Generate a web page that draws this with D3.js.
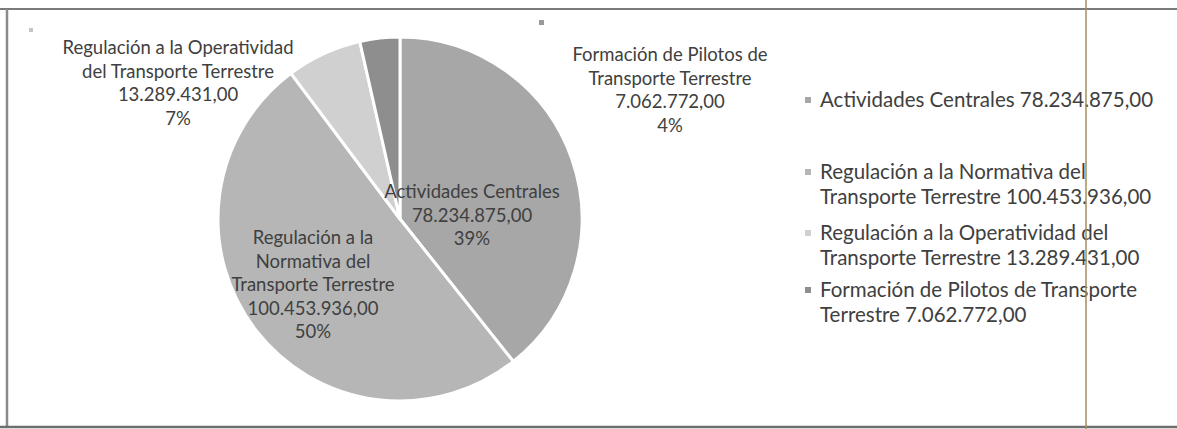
<!DOCTYPE html>
<html>
<head>
<meta charset="utf-8">
<script src="https://cdnjs.cloudflare.com/ajax/libs/d3/7.8.5/d3.min.js"></script>
<style>
	body { margin: 0; background: #fff; }
	svg text { font-family: Lato, "Open Sans", sans-serif; fill: #404040; }
</style>
</head>
<body>
<div id="chart"></div>
<script>
// presupuesto por actividad (pie)

var width = 1177,
	height = 429;

var categories = [
	"Actividades Centrales",
	"Regulación a la Normativa del Transporte Terrestre",
	"Regulación a la Operatividad del Transporte Terrestre",
	"Formación de Pilotos de Transporte Terrestre"
];
var amounts = [78234875.00, 100453936.00, 13289431.00, 7062772.00];
var amount_labels = ["78.234.875,00", "100.453.936,00", "13.289.431,00", "7.062.772,00"];
var percent_labels = ["39%", "50%", "7%", "4%"];

// how each label is broken in lines, on the pie and in the legend
var pie_label_lines = [
	["Actividades Centrales"],
	["Regulación a la", "Normativa del", "Transporte Terrestre"],
	["Regulación a la Operatividad", "del Transporte Terrestre"],
	["Formación de Pilotos de", "Transporte Terrestre"]
];
var legend_lines = [
	["Actividades Centrales 78.234.875,00"],
	["Regulación a la Normativa del", "Transporte Terrestre 100.453.936,00"],
	["Regulación a la Operatividad del", "Transporte Terrestre 13.289.431,00"],
	["Formación de Pilotos de Transporte", "Terrestre 7.062.772,00"]
];

var colors = ["#a7a7a7", "#b6b6b6", "#d0d0d0", "#8e8e8e"];

// layout
var cx = 400, cy = 219, radius = 182;
// label block centres (x, y of first line), placed like the original best-fit
var label_pos = [[472, 192], [313, 238], [178, 48], [670, 55]];
var line_h = 23.5;
var legend_x = 805, legend_y = [100, 172, 233, 290], legend_line_h = 25;

var svg = d3.select("#chart")
	.append("svg")
	.attr("width", width)
	.attr("height", height);

// frame of the scanned chart
svg.append("line")
	.attr("x1", 0).attr("x2", width)
	.attr("y1", 9).attr("y2", 9)
	.attr("stroke", "#7a7a7a").attr("stroke-width", 2);
svg.append("line")
	.attr("x1", 7).attr("x2", 7)
	.attr("y1", 9).attr("y2", 427)
	.attr("stroke", "#8a8a8a").attr("stroke-width", 2.5);
svg.append("line")
	.attr("x1", 0).attr("x2", width)
	.attr("y1", 427).attr("y2", 427)
	.attr("stroke", "#6e6e6e").attr("stroke-width", 2.5);

// stray marks left on the page
svg.append("rect").attr("x", 29).attr("y", 28).attr("width", 4).attr("height", 4).attr("fill", "#c4c4c4");
svg.append("rect").attr("x", 539).attr("y", 20).attr("width", 5).attr("height", 5).attr("fill", "#9a9a9a");

var data = categories.map(function(c, i) {
	return {name: c, value: amounts[i], idx: i};
});

var pie = d3.pie()
	.sort(null)
	.value(function(d) { return d.value; });

var arc = d3.arc()
	.innerRadius(0)
	.outerRadius(radius);

var g = svg.append("g")
	.attr("transform", "translate(" + [cx, cy] + ")");

g.selectAll("path")
	.data(pie(data))
	.enter().append("path")
	.attr("d", arc)
	.attr("fill", function(d) { return colors[d.data.idx]; })
	.attr("stroke", "#fff")
	.attr("stroke-width", 3)
	.attr("stroke-linejoin", "round");

// data labels
var labels = svg.selectAll("text.dlabel")
	.data(data)
	.enter().append("text")
	.attr("class", "dlabel")
	.attr("text-anchor", "middle")
	.style("font-size", "18.5px")
	.attr("transform", function(d) {
		return "translate(" + label_pos[d.idx] + ")";
	});

labels.each(function(d) {
	var lines = pie_label_lines[d.idx].concat([amount_labels[d.idx], percent_labels[d.idx]]);
	d3.select(this).selectAll("tspan")
		.data(lines)
		.enter().append("tspan")
		.attr("x", 0)
		.attr("y", function(l, k) { return k * line_h; })
		.attr("dy", "0.35em")
		.text(function(l) { return l; });
});

// legend
var legend = svg.selectAll("g.legend")
	.data(data)
	.enter().append("g")
	.attr("class", "legend")
	.attr("transform", function(d) {
		return "translate(" + [legend_x, legend_y[d.idx]] + ")";
	});

legend.append("rect")
	.attr("x", 0)
	.attr("y", -3)
	.attr("width", 6)
	.attr("height", 6)
	.attr("fill", function(d) { return colors[d.idx]; });

legend.append("text")
	.style("font-size", "20.5px")
	.each(function(d) {
		d3.select(this).selectAll("tspan")
			.data(legend_lines[d.idx])
			.enter().append("tspan")
			.attr("x", 15)
			.attr("y", function(l, k) { return k * legend_line_h; })
			.attr("dy", "0.35em")
			.text(function(l) { return l; });
	});

// crop line of the scan
svg.append("line")
	.attr("x1", 1086).attr("x2", 1086)
	.attr("y1", 0).attr("y2", height)
	.attr("stroke", "#a38f5c").attr("stroke-width", 1.5);
</script>
</body>
</html>
